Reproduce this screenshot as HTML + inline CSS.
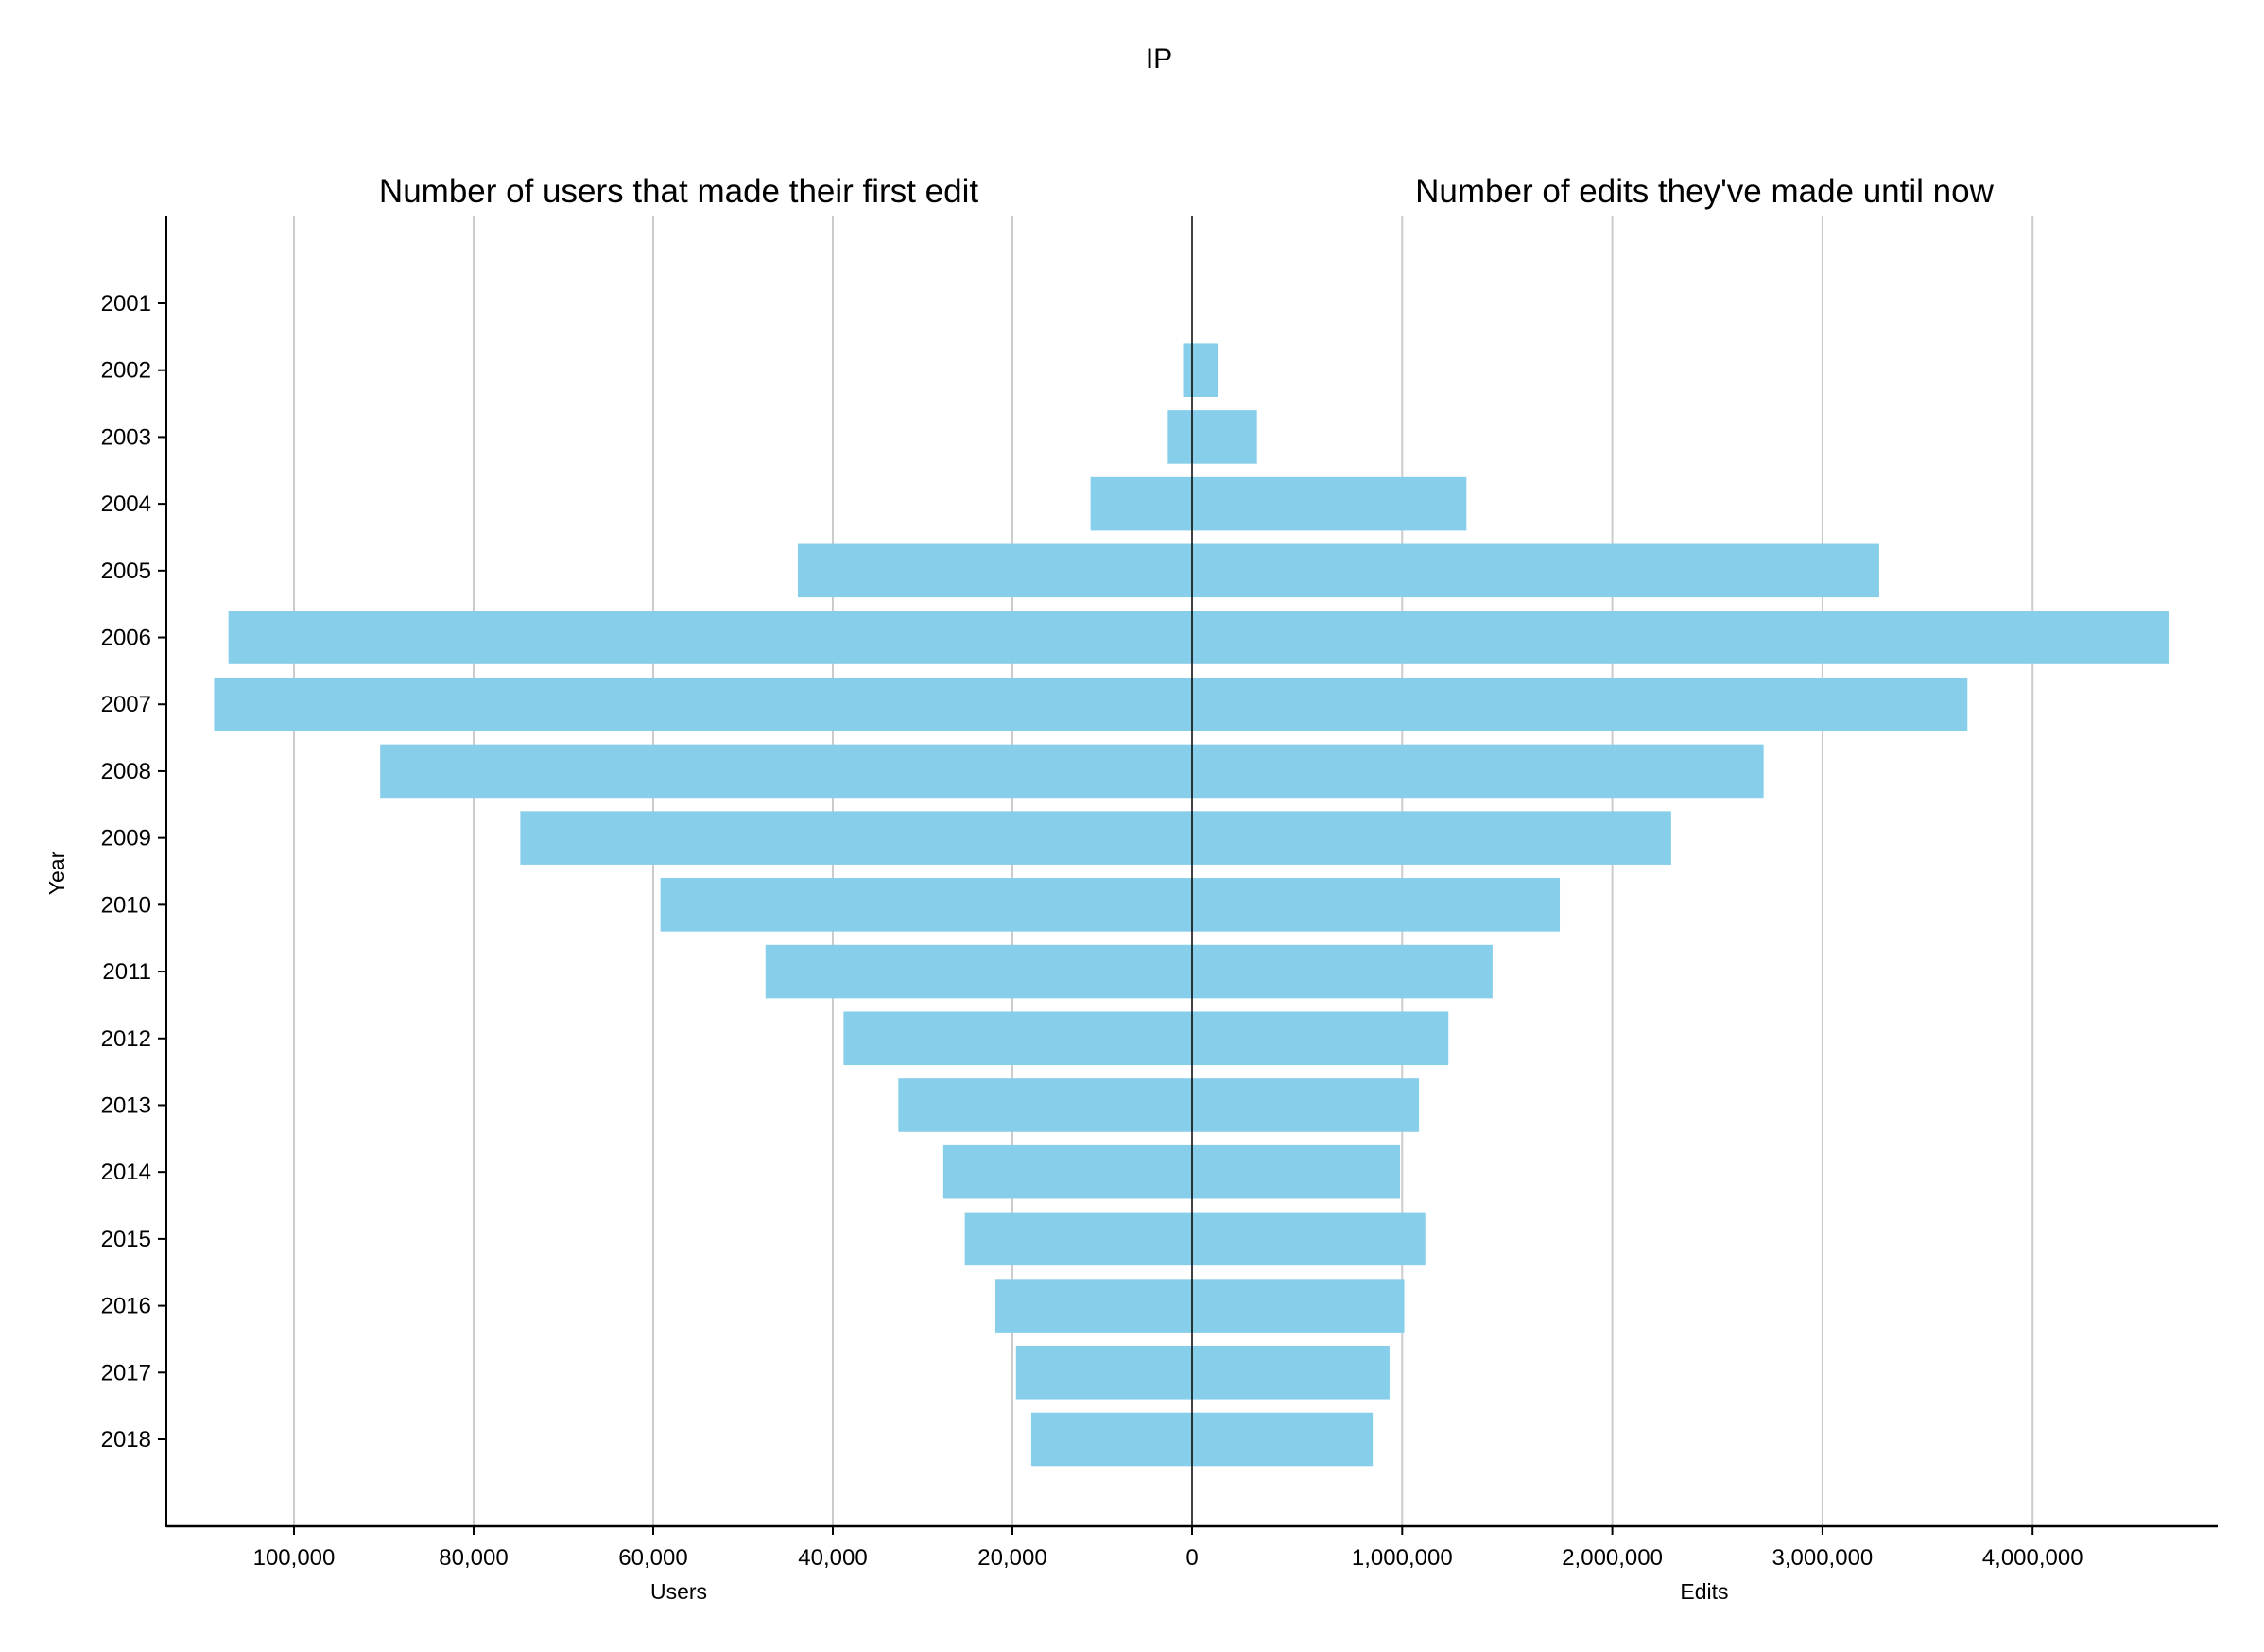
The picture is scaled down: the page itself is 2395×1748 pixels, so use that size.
<!DOCTYPE html>
<html><head><meta charset="utf-8"><style>
html,body{margin:0;padding:0;background:#fff;}
svg{display:block;font-family:"Liberation Sans",sans-serif;}
</style></head><body>
<svg id="chart" width="2395" height="1748" viewBox="0 0 2395 1748" xmlns="http://www.w3.org/2000/svg">
<text x="1226" y="72" font-size="30" text-anchor="middle">IP</text>
<text x="718" y="214" font-size="35" text-anchor="middle">Number of users that made their first edit</text>
<text x="1803" y="214" font-size="35" text-anchor="middle">Number of edits they've made until now</text>
<text x="0" y="0" font-size="23" text-anchor="middle" transform="translate(68,924) rotate(-90)">Year</text>
<text x="718" y="1692" font-size="23" text-anchor="middle">Users</text>
<text x="1803" y="1692" font-size="23" text-anchor="middle">Edits</text>
<g id="grid"></g><g id="bars"></g><g id="axes"></g>
</svg>
<script>
const years=[2001,2002,2003,2004,2005,2006,2007,2008,2009,2010,2011,2012,2013,2014,2015,2016,2017,2018];
const users=[0,1000,2700,11300,43900,107300,108900,90400,74800,59200,47500,38800,32700,27700,25300,21900,19600,17900];
const edits=[0,124000,309000,1306000,3270000,4650000,3690000,2720000,2280000,1750000,1430000,1220000,1080000,990000,1110000,1010000,940000,860000];
const userTicks=[0,20000,40000,60000,80000,100000];
const editTicks=[0,1000000,2000000,3000000,4000000];

const NS="http://www.w3.org/2000/svg";
const cx=1261,plotLeft=176,plotRight=2346,plotTop=229,plotBottom=1615;
const xU=v=>cx-v*190/20000;
const xE=v=>cx+v*222.3/1000000;
const y0=321,step=(1523-321)/17,bh=step*0.8;
const yY=i=>y0+i*step;
function mk(tag,attrs,parent){const e=document.createElementNS(NS,tag);for(const k in attrs)e.setAttribute(k,attrs[k]);parent.appendChild(e);return e;}
const gridG=document.getElementById('grid'),barsG=document.getElementById('bars'),axesG=document.getElementById('axes');
const fmt=v=>v.toLocaleString('en-US');
userTicks.forEach(t=>{const x=xU(t);
 if(t>0){const g=mk('line',{x1:x,x2:x,y1:plotTop,y2:plotBottom,stroke:'#cccccc','stroke-width':2},gridG);
 
 }
 const tk=mk('line',{x1:x,x2:x,y1:plotBottom,y2:plotBottom+9,stroke:'#000','stroke-width':2},axesG);
 
 
 const tx=mk('text',{x:x,y:1656,'font-size':24,'text-anchor':'middle'},axesG);tx.textContent=fmt(t);
 
 
});
editTicks.forEach(t=>{const x=xE(t);
 if(t>0){const g=mk('line',{x1:x,x2:x,y1:plotTop,y2:plotBottom,stroke:'#cccccc','stroke-width':2},gridG);
 
 
 const tk=mk('line',{x1:x,x2:x,y1:plotBottom,y2:plotBottom+9,stroke:'#000','stroke-width':2},axesG);
 
 
 const tx=mk('text',{x:x,y:1656,'font-size':24,'text-anchor':'middle'},axesG);tx.textContent=fmt(t);
 
 }
});
years.forEach((yr,i)=>{const y=yY(i);
 if(users[i]>0){const r=mk('rect',{x:xU(users[i]),y:y-bh/2,width:cx-xU(users[i]),height:bh,fill:'#87ceeb'},barsG);
 
 }
 if(edits[i]>0){const r=mk('rect',{x:cx,y:y-bh/2,width:xE(edits[i])-cx,height:bh,fill:'#87ceeb'},barsG);
 
 }
 const tk=mk('line',{x1:plotLeft-9,x2:plotLeft,y1:y,y2:y,stroke:'#000','stroke-width':2},axesG);
 
 
 const tx=mk('text',{x:plotLeft-16,y:y+8,'font-size':24,'text-anchor':'end'},axesG);tx.textContent=yr;
 
 
});
const c=mk('line',{x1:cx,x2:cx,y1:plotTop,y2:plotBottom,stroke:'#000','stroke-width':1.5},axesG);


const l=mk('line',{x1:plotLeft,x2:plotLeft,y1:plotTop,y2:plotBottom+1,stroke:'#000','stroke-width':2},axesG);


const b=mk('line',{x1:plotLeft,x2:plotRight,y1:plotBottom,y2:plotBottom,stroke:'#000','stroke-width':2.5},axesG);


</script>
</body></html>
